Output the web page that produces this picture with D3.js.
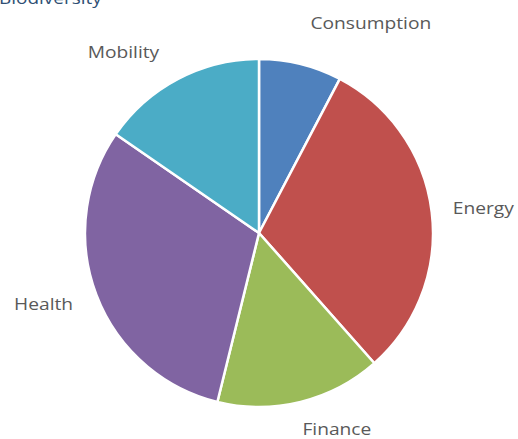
<!DOCTYPE html>
<html>
<head>
<meta charset="utf-8">
<script src="https://cdn.jsdelivr.net/npm/d3@7"></script>
<style>
body { margin: 0; background: #fff; }
text { font-family: "Open Sans", "DejaVu Sans", sans-serif; }
</style>
</head>
<body>
<script>
var width = 518;
var height = 439;

// data
var categories = ["Consumption", "Energy", "Finance", "Health", "Mobility"];
var values = [1, 4, 2, 4, 2];
var colors = ["#4f81bd", "#c0504d", "#9bbb59", "#8064a2", "#4bacc6"];
// label nudges (layout only)
var labelShift = [[58, 8], [1, 2], [24, -23], [-5, -9], [-31, 18]];

var svg = d3.select("body")
    .append("svg")
    .attr("width", width)
    .attr("height", height);

// clipped title at the very top
svg.append("text")
    .attr("transform", "translate(-1,4) scale(1.15,1)")
    .attr("font-size", 16.5)
    .attr("fill", "#2f4f74")
    .text("Biodiversity");

var cx = 259, cy = 233, r = 174;

var pie = d3.pie().sort(null).value(function(d){ return d; });
var arcs = pie(values);

var arc = d3.arc().innerRadius(0).outerRadius(r);
var labelArc = d3.arc().innerRadius(225).outerRadius(225);

var g = svg.append("g").attr("transform", "translate(" + cx + "," + cy + ")");

g.selectAll("path")
    .data(arcs)
    .enter()
    .append("path")
    .attr("d", arc)
    .attr("fill", function(d, i){ return colors[i]; })
    .attr("stroke", "#fff")
    .attr("stroke-width", 2.5)
    .attr("stroke-linejoin", "round");

g.selectAll("text.lab")
    .data(arcs)
    .enter()
    .append("text")
    .attr("class", "lab")
    .attr("transform", function(d, i){
        var c = labelArc.centroid(d);
        return "translate(" + (c[0] + labelShift[i][0]) + "," + (c[1] + labelShift[i][1]) + ") scale(1.2,1)";
    })
    .attr("text-anchor", "middle")
    .attr("dominant-baseline", "central")
    .attr("font-size", 16)
    .attr("fill", "#595959")
    .text(function(d, i){ return categories[i]; });
</script>
</body>
</html>
